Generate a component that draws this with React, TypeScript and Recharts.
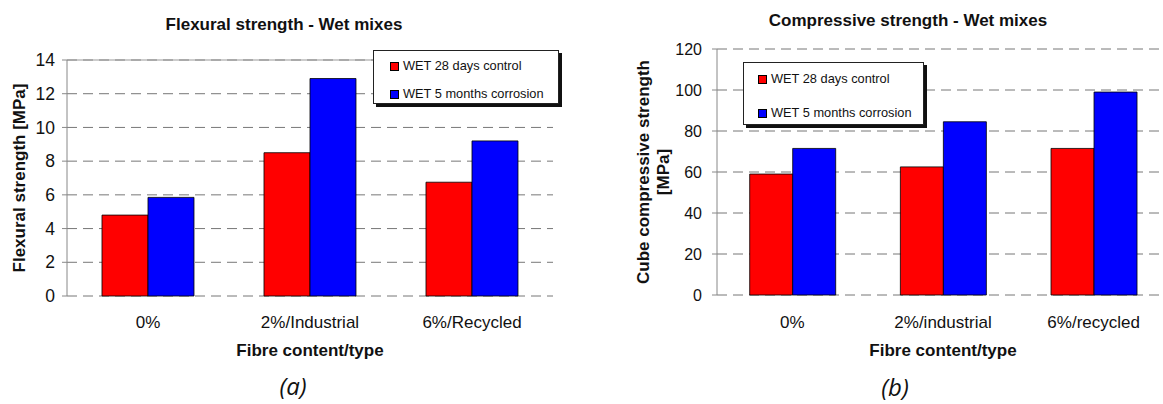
import React from "react";
import {
  Bar,
  BarChart,
  CartesianGrid,
  Label,
  Legend,
  ReferenceLine,
  XAxis,
  YAxis,
} from "recharts";

const flexCategories = ["0%", "2%/Industrial", "6%/Recycled"];
const flexControl = [4.8, 8.5, 6.75];
const flexCorrosion = [5.85, 12.9, 9.2];
const flexTicks = [0, 2, 4, 6, 8, 10, 12, 14];

const compCategories = ["0%", "2%/industrial", "6%/recycled"];
const compControl = [59, 62.5, 71.5];
const compCorrosion = [71.5, 84.5, 99];
const compTicks = [0, 20, 40, 60, 80, 100, 120];

const seriesNames = ["WET 28 days control", "WET 5 months corrosion"];
const edgeTicks = [0, 1, 2, 3];

const FONT = "'Liberation Sans', Arial, sans-serif";

const flexData = flexCategories.map((name, i) => ({
  name,
  control: flexControl[i],
  corrosion: flexCorrosion[i],
}));
const compData = compCategories.map((name, i) => ({
  name,
  control: compControl[i],
  corrosion: compCorrosion[i],
}));

function LegendBox({ width, height, padTop, gap, padLeft }: { width: number; height: number; padTop: number; gap: number; padLeft: number }) {
  const colors = ["#ff0000", "#0000ff"];
  return (
    <div
      style={{
        width,
        height,
        boxSizing: "border-box",
        background: "#fff",
        border: "1px solid #222",
        boxShadow: "3px 3px 0 #111",
        padding: `${padTop}px 0 0 ${padLeft}px`,
        display: "flex",
        flexDirection: "column",
        gap,
        fontFamily: FONT,
        fontSize: 12.8,
        color: "#111",
      }}
    >
      {seriesNames.map((n, i) => (
        <div key={n} style={{ display: "flex", alignItems: "center", height: 14, lineHeight: "14px" }}>
          <span
            style={{
              display: "inline-block",
              boxSizing: "border-box",
              width: 9,
              height: 9,
              background: colors[i],
              border: "1px solid #000",
              marginRight: 4,
            }}
          />
          {n}
        </div>
      ))}
    </div>
  );
}

const yTitle = (lines: string[], x: number, step: number) => (props: any) => {
  const vb = props.viewBox || {};
  const cy = vb.y + vb.height / 2;
  return (
    <text
      x={x}
      y={cy}
      transform={`rotate(-90 ${x} ${cy})`}
      textAnchor="middle"
      dominantBaseline="central"
      fontFamily={FONT}
      fontWeight="bold"
      fontSize={17}
      fill="#111"
    >
      {lines.map((l, i) => (
        <tspan key={l} x={x} dy={i === 0 ? 0 : step}>
          {l}
        </tspan>
      ))}
    </text>
  );
};

const titleStyle: React.CSSProperties = {
  position: "absolute",
  fontFamily: FONT,
  fontWeight: "bold",
  fontSize: 17,
  color: "#111",
  transform: "translate(-50%, -50%)",
  whiteSpace: "nowrap",
};

const captionStyle: React.CSSProperties = {
  position: "absolute",
  fontFamily: "'Open Sans', sans-serif",
  fontStyle: "italic",
  fontSize: 24,
  lineHeight: 1,
  color: "#111",
  transform: "translate(-50%, -50%)",
};

export default function App() {
  return (
    <div style={{ position: "absolute", left: 0, top: 0, width: 1163, height: 404, background: "#fff", overflow: "hidden" }}>
      {/* (a) flexural */}
      <div style={{ position: "absolute", left: 0, top: 0 }}>
        <BarChart
          width={580}
          height={404}
          data={flexData}
          margin={{ top: 60, right: 27, bottom: 48, left: 0 }}
          barCategoryGap="21.6%"
          barGap={0}
        >
          <CartesianGrid vertical={false} stroke="#777" strokeDasharray="10 6" />
          <XAxis
            xAxisId="edge"
            type="number"
            domain={[0, 3]}
            ticks={edgeTicks}
            tick={false}
            height={0}
            tickSize={5}
            axisLine={{ stroke: "#555" }}
            tickLine={{ stroke: "#555" }}
          />
          <XAxis
            xAxisId="cat"
            dataKey="name"
            height={60}
            axisLine={false}
            tickLine={false}
            tickMargin={14}
            tick={{ fontFamily: FONT, fontSize: 17, fill: "#111" }}
          >
            <Label value="Fibre content/type" position="insideBottom" offset={0} fontFamily={FONT} fontWeight="bold" fontSize={17} fill="#111" />
          </XAxis>
          <YAxis
            domain={[0, 14]}
            ticks={flexTicks}
            width={67}
            tickSize={5}
            tickMargin={7}
            axisLine={{ stroke: "#888" }}
            tickLine={{ stroke: "#888" }}
            tick={{ fontFamily: FONT, fontSize: 17.5, fill: "#111" }}
            label={{ content: yTitle(["Flexural strength [MPa]"], 19, 0) }}
          />
          <YAxis
            yAxisId="edge"
            orientation="right"
            domain={[0, 14]}
            width={0}
            tick={false}
            tickLine={false}
            axisLine={{ stroke: "#999" }}
          />
          <ReferenceLine y={14} xAxisId="cat" stroke="#999" />
          <Legend
            layout="vertical"
            align="center"
            verticalAlign="middle"
            wrapperStyle={{ left: 373, top: 50, width: "auto" }}
            content={() => <LegendBox width={186} height={54} padTop={8} gap={14} padLeft={16} />}
          />
          <Bar xAxisId="cat" dataKey="control" name={seriesNames[0]} fill="#ff0000" stroke="#000" strokeWidth={0.8} isAnimationActive={false} />
          <Bar xAxisId="cat" dataKey="corrosion" name={seriesNames[1]} fill="#0000ff" stroke="#000" strokeWidth={0.8} isAnimationActive={false} />
        </BarChart>
      </div>
      <div style={{ ...titleStyle, left: 284, top: 25 }}>Flexural strength - Wet mixes</div>
      <div style={{ ...captionStyle, left: 293, top: 386 }}>(a)</div>

      {/* (b) compressive */}
      <div style={{ position: "absolute", left: 620, top: 0 }}>
        <BarChart
          width={554}
          height={404}
          data={compData}
          margin={{ top: 49, right: 5, bottom: 49, left: 0 }}
          barCategoryGap="21.7%"
          barGap={0}
        >
          <CartesianGrid vertical={false} stroke="#777" strokeDasharray="10 6" />
          <XAxis
            xAxisId="edge"
            type="number"
            domain={[0, 3]}
            ticks={edgeTicks}
            tick={false}
            height={0}
            tickSize={5}
            axisLine={{ stroke: "#555" }}
            tickLine={{ stroke: "#555" }}
          />
          <XAxis
            xAxisId="cat"
            dataKey="name"
            height={60}
            axisLine={false}
            tickLine={false}
            tickMargin={15}
            tick={{ fontFamily: FONT, fontSize: 17, fill: "#111" }}
          >
            <Label value="Fibre content/type" position="insideBottom" offset={-1} fontFamily={FONT} fontWeight="bold" fontSize={17} fill="#111" />
          </XAxis>
          <YAxis
            domain={[0, 120]}
            ticks={compTicks}
            width={97}
            tickSize={5}
            tickMargin={10}
            axisLine={{ stroke: "#888" }}
            tickLine={{ stroke: "#888" }}
            tick={{ fontFamily: FONT, fontSize: 16, fill: "#111" }}
            label={{ content: yTitle(["Cube compressive strength", "[MPa]"], 23, 20) }}
          />
          <Legend
            layout="vertical"
            align="center"
            verticalAlign="middle"
            wrapperStyle={{ left: 123, top: 62, width: "auto" }}
            content={() => <LegendBox width={181} height={63} padTop={9} gap={20} padLeft={14} />}
          />
          <Bar xAxisId="cat" dataKey="control" name={seriesNames[0]} fill="#ff0000" stroke="#000" strokeWidth={0.8} isAnimationActive={false} />
          <Bar xAxisId="cat" dataKey="corrosion" name={seriesNames[1]} fill="#0000ff" stroke="#000" strokeWidth={0.8} isAnimationActive={false} />
        </BarChart>
      </div>
      <div style={{ ...titleStyle, left: 908, top: 21 }}>Compressive strength - Wet mixes</div>
      <div style={{ ...captionStyle, left: 895, top: 387 }}>(b)</div>
    </div>
  );
}
